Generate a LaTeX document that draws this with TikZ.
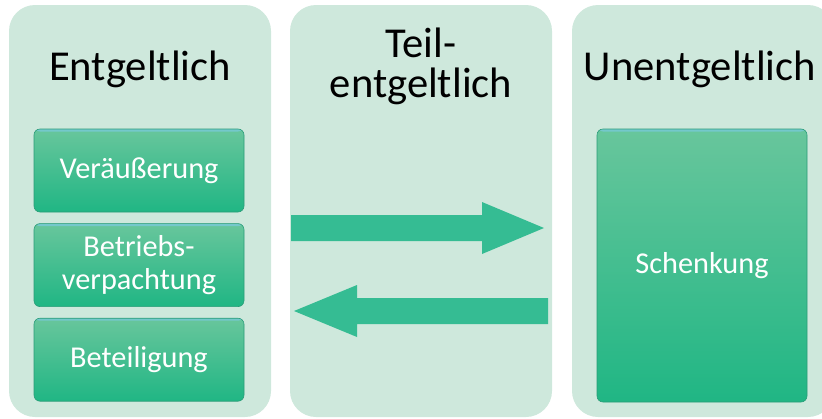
\documentclass[tikz,border=0pt]{standalone}
\usepackage{fontspec}
\setmainfont{Carlito}
\usetikzlibrary{positioning}
\definecolor{panelgreen}{HTML}{CEE8DC}
\definecolor{boxtop}{HTML}{68C69C}
\definecolor{boxbottom}{HTML}{20B684}
\definecolor{boxedge}{HTML}{2A9C78}
\definecolor{boxhighlight}{HTML}{74C8CB}
\definecolor{arrowgreen}{HTML}{35BC93}

\tikzset{
	panel/.style={fill=panelgreen, rounded corners=26pt, minimum width=262pt, minimum height=412pt, inner sep=0pt},
	title/.style={font=\fontsize{42.6}{40}\selectfont, text=black, inner sep=0pt},
	itembox/.style={draw=boxedge, line width=0.6pt, rounded corners=6pt, top color=boxtop, bottom color=boxbottom,
		minimum width=210pt, minimum height=83pt, inner sep=0pt, align=center, text=white,
		font=\fontsize{30.3}{33}\selectfont,
		path picture={\fill[boxhighlight] (path picture bounding box.north west) rectangle ([yshift=-2.5pt]path picture bounding box.north east);}},
	blockarrow/.style={fill=arrowgreen}
}

\begin{document}
\begin{tikzpicture}[x=1pt,y=-1pt]
	\useasboundingbox (0,0) rectangle (822,418);
	\node[panel] (entg) at (140,211) {};
	\node[panel] (teil) at (421,211) {};
	\node[panel] (unentg) at (703,211) {};
	
	\node[title, anchor=base] (entgtitle) at (140,80) {Entgeltlich};
	\node[title, anchor=base, align=center] (teiltitle) at (421,97) {Teil-\\entgeltlich};
	\node[title, anchor=base] (unentgtitle) at (700,80) {Unentgeltlich};
	
	\node[itembox] (veraeusserung) at (139,170.5) {Veräußerung};
	\node[itembox, below=11pt of veraeusserung] (verpachtung) {Betriebs-\\verpachtung};
	\node[itembox, below=11pt of verpachtung] (beteiligung) {Beteiligung};
	\node[itembox, minimum height=273pt] (schenkung) at (702,265.5) {Schenkung};
	
	% Pfeile
	\fill[blockarrow] (291,215) -- (482,215) -- (482,202) -- (544,228) -- (482,254) -- (482,241) -- (291,241) -- cycle;
	\fill[blockarrow] (548,298) -- (357,298) -- (357,285) -- (294,311) -- (357,337) -- (357,324) -- (548,324) -- cycle;
\end{tikzpicture}
\end{document}
